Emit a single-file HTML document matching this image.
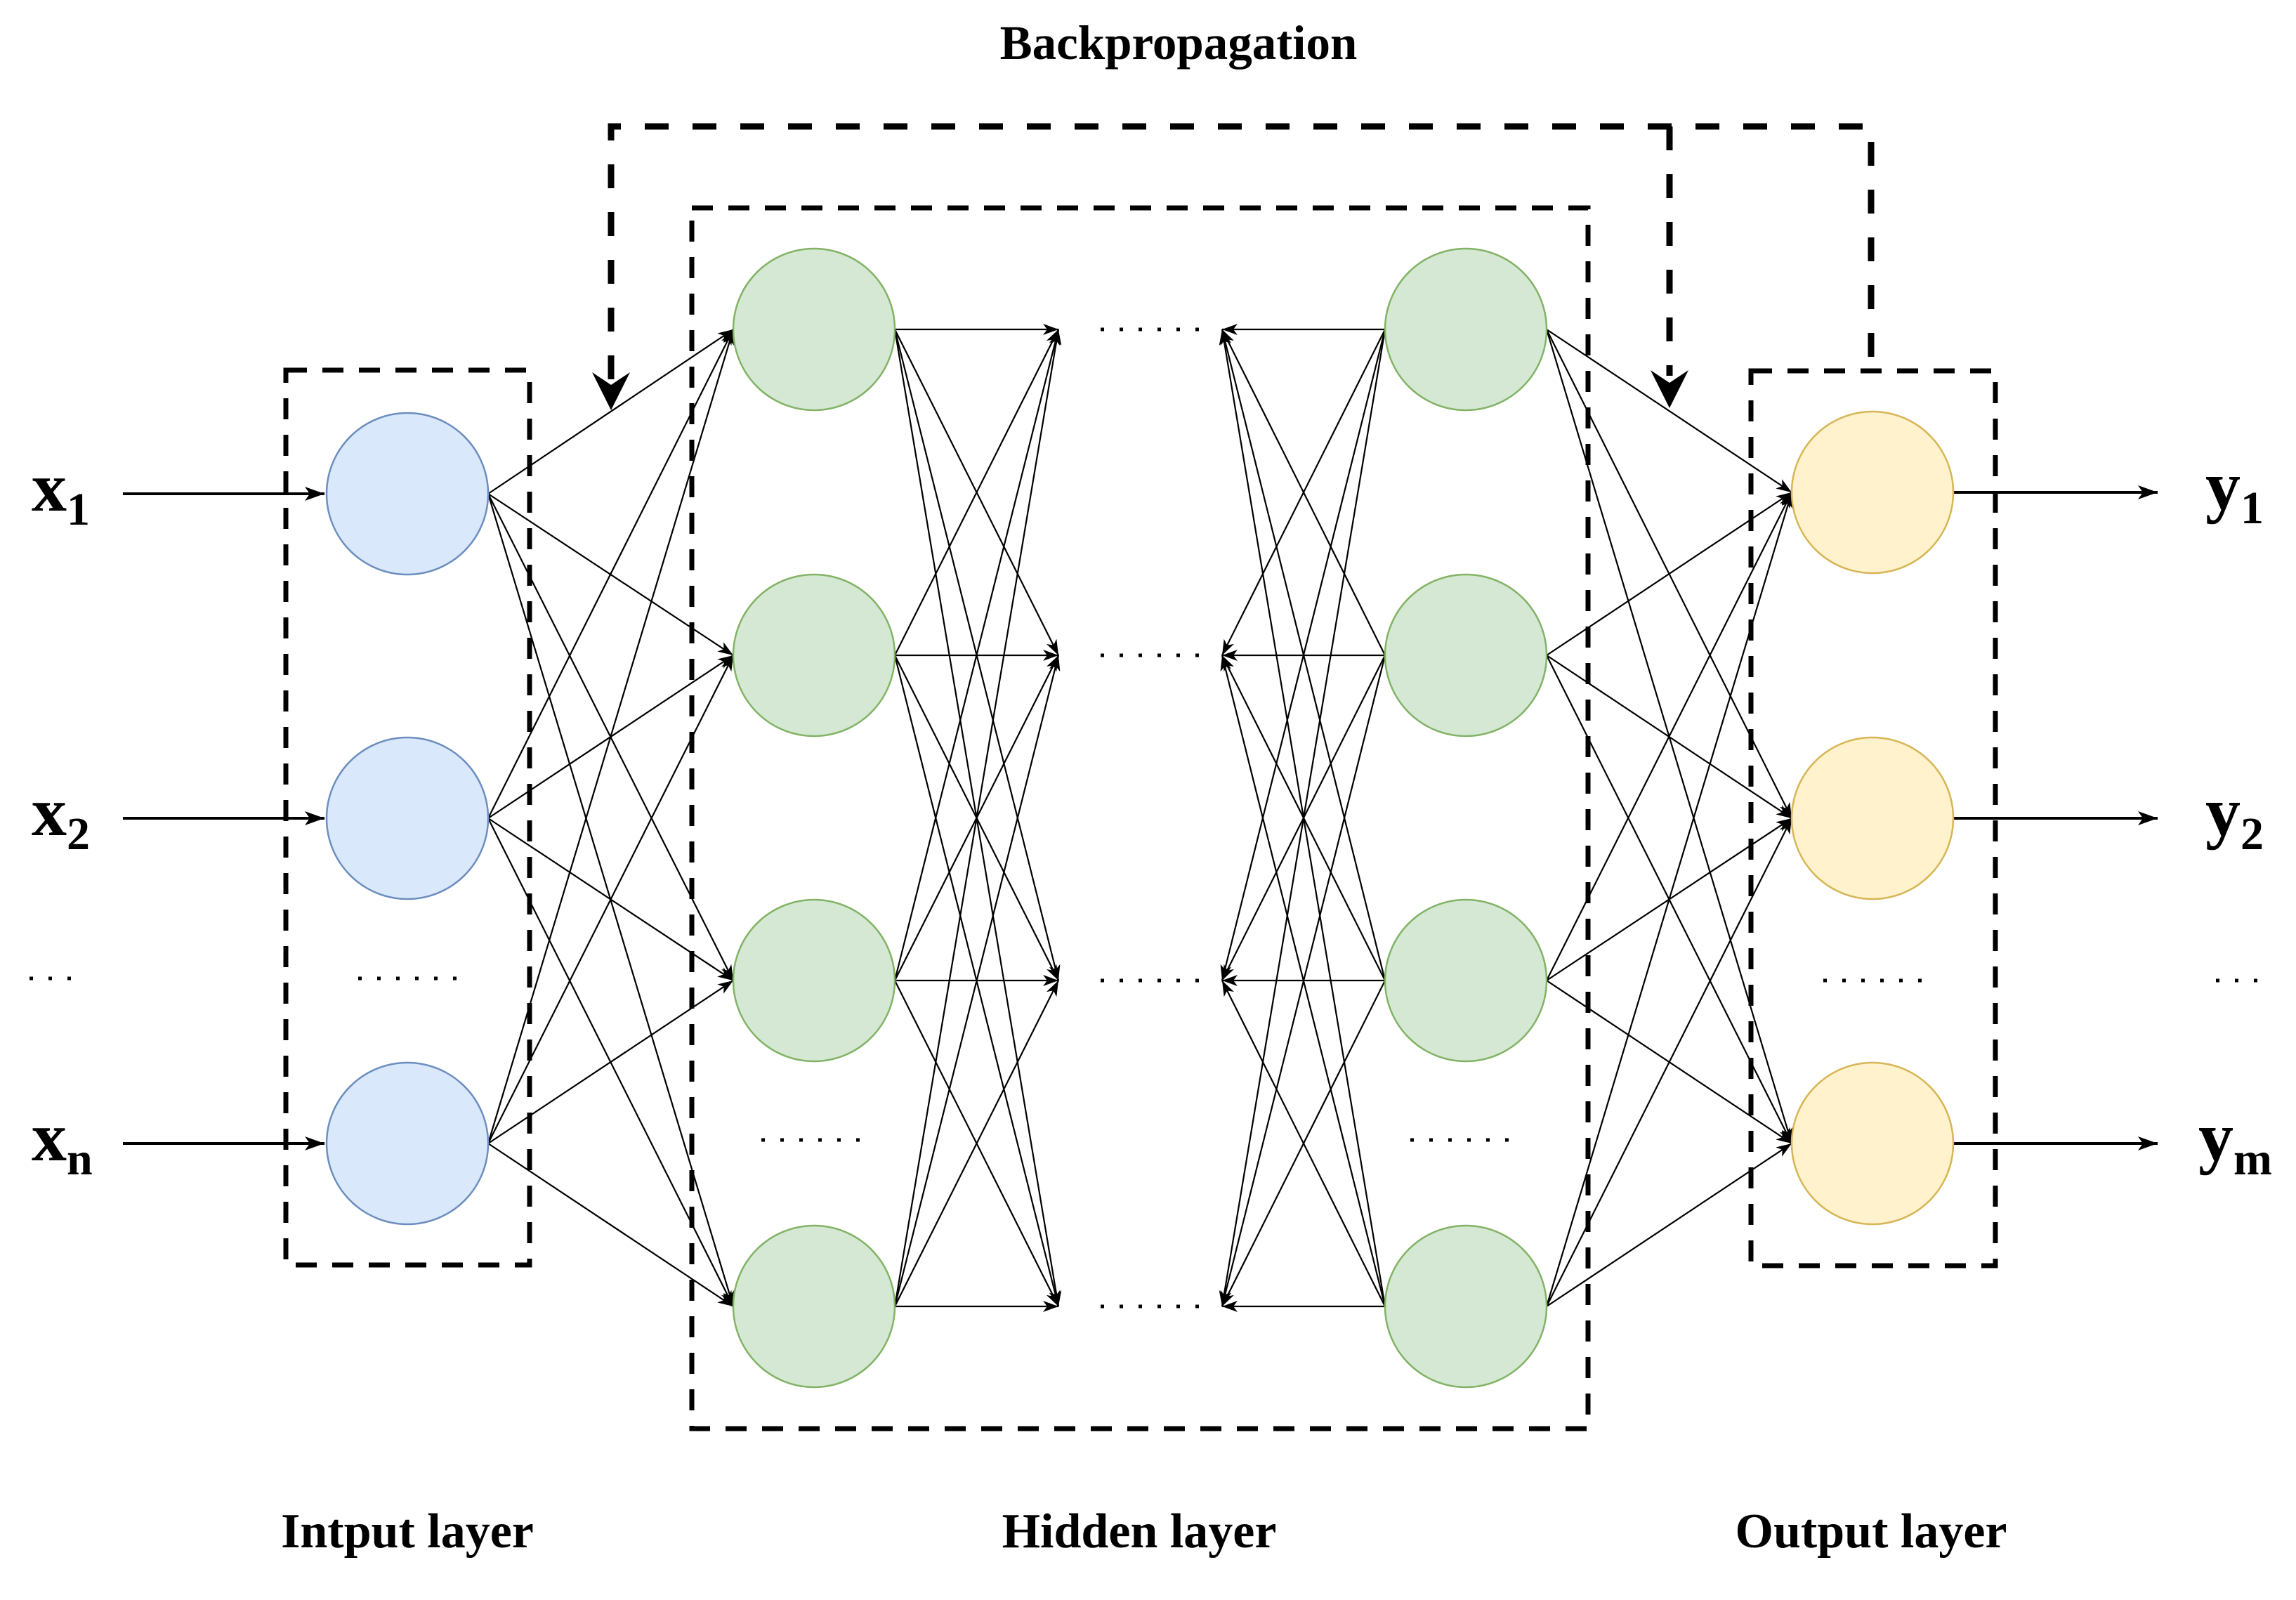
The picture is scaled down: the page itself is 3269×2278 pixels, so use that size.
<!DOCTYPE html>
<html><head><meta charset="utf-8"><style>
html,body{margin:0;padding:0;background:#fff;}
svg{display:block;}
text{font-family:"Liberation Serif",serif;font-weight:bold;fill:#000;}
</style></head><body>
<svg width="3269" height="2278" viewBox="0 0 3269 2278" xmlns="http://www.w3.org/2000/svg">
<defs>
<marker id="a" markerUnits="userSpaceOnUse" markerWidth="24" markerHeight="16" refX="22" refY="8" orient="auto">
<path d="M0,0 L22,8 L0,16 L6,8 z" fill="#000"/></marker>
<marker id="b" markerUnits="userSpaceOnUse" markerWidth="30" markerHeight="20" refX="28" refY="10" orient="auto">
<path d="M0,0 L28,10 L0,20 L7,10 z" fill="#000"/></marker>
</defs>

<text x="1678" y="84" font-size="69" text-anchor="middle">Backpropagation</text>

<g fill="none" stroke="#000" stroke-width="9" stroke-dasharray="34 34">
<path d="M870,540 L870,180 L2664,180 L2664,528"/>
<path d="M2377,180 L2377,535"/>
</g>
<path d="M843,530 L870,584 L897,530 L870,548 z" fill="#000"/>
<path d="M2350,527 L2377,581 L2404,527 L2377,545 z" fill="#000"/>

<g fill="none" stroke="#000" stroke-width="7" stroke-dasharray="30 22">
<rect x="407" y="527" width="347" height="1274"/>
<rect x="985" y="296" width="1276" height="1738"/>
<rect x="2493" y="528" width="348" height="1274"/>
</g>

<g stroke="#000" stroke-width="4" fill="none">
<line x1="175" y1="703" x2="462" y2="703" marker-end="url(#b)"/>
<line x1="175" y1="1165" x2="462" y2="1165" marker-end="url(#b)"/>
<line x1="175" y1="1628" x2="462" y2="1628" marker-end="url(#b)"/>
<line x1="2781" y1="701" x2="3072" y2="701" marker-end="url(#b)"/>
<line x1="2781" y1="1165" x2="3072" y2="1165" marker-end="url(#b)"/>
<line x1="2781" y1="1628" x2="3072" y2="1628" marker-end="url(#b)"/>
</g>

<g stroke="#000" stroke-width="2.2" fill="none" marker-end="url(#a)">
<line x1="695" y1="703" x2="1044" y2="469"/><line x1="695" y1="703" x2="1044" y2="933"/><line x1="695" y1="703" x2="1044" y2="1396"/><line x1="695" y1="703" x2="1044" y2="1860"/>
<line x1="695" y1="1165" x2="1044" y2="469"/><line x1="695" y1="1165" x2="1044" y2="933"/><line x1="695" y1="1165" x2="1044" y2="1396"/><line x1="695" y1="1165" x2="1044" y2="1860"/>
<line x1="695" y1="1628" x2="1044" y2="469"/><line x1="695" y1="1628" x2="1044" y2="933"/><line x1="695" y1="1628" x2="1044" y2="1396"/><line x1="695" y1="1628" x2="1044" y2="1860"/>
<line x1="1274" y1="469" x2="1507" y2="469"/><line x1="1274" y1="469" x2="1507" y2="933"/><line x1="1274" y1="469" x2="1507" y2="1396"/><line x1="1274" y1="469" x2="1507" y2="1860"/>
<line x1="1274" y1="933" x2="1507" y2="469"/><line x1="1274" y1="933" x2="1507" y2="933"/><line x1="1274" y1="933" x2="1507" y2="1396"/><line x1="1274" y1="933" x2="1507" y2="1860"/>
<line x1="1274" y1="1396" x2="1507" y2="469"/><line x1="1274" y1="1396" x2="1507" y2="933"/><line x1="1274" y1="1396" x2="1507" y2="1396"/><line x1="1274" y1="1396" x2="1507" y2="1860"/>
<line x1="1274" y1="1860" x2="1507" y2="469"/><line x1="1274" y1="1860" x2="1507" y2="933"/><line x1="1274" y1="1860" x2="1507" y2="1396"/><line x1="1274" y1="1860" x2="1507" y2="1860"/>
<line x1="1972" y1="469" x2="1740" y2="469"/><line x1="1972" y1="469" x2="1740" y2="933"/><line x1="1972" y1="469" x2="1740" y2="1396"/><line x1="1972" y1="469" x2="1740" y2="1860"/>
<line x1="1972" y1="933" x2="1740" y2="469"/><line x1="1972" y1="933" x2="1740" y2="933"/><line x1="1972" y1="933" x2="1740" y2="1396"/><line x1="1972" y1="933" x2="1740" y2="1860"/>
<line x1="1972" y1="1396" x2="1740" y2="469"/><line x1="1972" y1="1396" x2="1740" y2="933"/><line x1="1972" y1="1396" x2="1740" y2="1396"/><line x1="1972" y1="1396" x2="1740" y2="1860"/>
<line x1="1972" y1="1860" x2="1740" y2="469"/><line x1="1972" y1="1860" x2="1740" y2="933"/><line x1="1972" y1="1860" x2="1740" y2="1396"/><line x1="1972" y1="1860" x2="1740" y2="1860"/>
<line x1="2202" y1="469" x2="2551" y2="701"/><line x1="2202" y1="469" x2="2551" y2="1165"/><line x1="2202" y1="469" x2="2551" y2="1628"/>
<line x1="2202" y1="933" x2="2551" y2="701"/><line x1="2202" y1="933" x2="2551" y2="1165"/><line x1="2202" y1="933" x2="2551" y2="1628"/>
<line x1="2202" y1="1396" x2="2551" y2="701"/><line x1="2202" y1="1396" x2="2551" y2="1165"/><line x1="2202" y1="1396" x2="2551" y2="1628"/>
<line x1="2202" y1="1860" x2="2551" y2="701"/><line x1="2202" y1="1860" x2="2551" y2="1165"/><line x1="2202" y1="1860" x2="2551" y2="1628"/>
</g>

<g fill="#dae8fc" stroke="#6c8ebf" stroke-width="2.5">
<circle cx="580" cy="703" r="115"/><circle cx="580" cy="1165" r="115"/><circle cx="580" cy="1628" r="115"/>
</g>
<g fill="#d5e8d4" stroke="#82b366" stroke-width="2.5">
<circle cx="1159" cy="469" r="115"/><circle cx="1159" cy="933" r="115"/><circle cx="1159" cy="1396" r="115"/><circle cx="1159" cy="1860" r="115"/>
<circle cx="2087" cy="469" r="115"/><circle cx="2087" cy="933" r="115"/><circle cx="2087" cy="1396" r="115"/><circle cx="2087" cy="1860" r="115"/>
</g>
<g fill="#fff2cc" stroke="#d6b656" stroke-width="2.5">
<circle cx="2666" cy="701" r="115"/><circle cx="2666" cy="1165" r="115"/><circle cx="2666" cy="1628" r="115"/>
</g>

<g stroke="#000" stroke-width="5" stroke-dasharray="5 22" stroke-linecap="butt" fill="none">
<line x1="510" y1="1393" x2="660" y2="1393"/>
<line x1="1084" y1="1623" x2="1234" y2="1623"/>
<line x1="2008" y1="1623" x2="2158" y2="1623"/>
<line x1="2596" y1="1396" x2="2746" y2="1396"/>
<line x1="1567" y1="469" x2="1725" y2="469"/>
<line x1="1567" y1="933" x2="1725" y2="933"/>
<line x1="1567" y1="1396" x2="1725" y2="1396"/>
<line x1="1567" y1="1860" x2="1725" y2="1860"/>
<line x1="42" y1="1393" x2="120" y2="1393"/>
<line x1="3155" y1="1396" x2="3233" y2="1396"/>
</g>

<text x="45" y="727" font-size="100">x<tspan font-size="66" dy="20">1</tspan></text>
<text x="45" y="1189" font-size="100">x<tspan font-size="66" dy="20">2</tspan></text>
<text x="45" y="1652" font-size="100">x<tspan font-size="66" dy="20">n</tspan></text>
<text x="3140" y="725" font-size="100">y<tspan font-size="66" dy="20">1</tspan></text>
<text x="3140" y="1189" font-size="100">y<tspan font-size="66" dy="20">2</tspan></text>
<text x="3130" y="1652" font-size="100">y<tspan font-size="66" dy="20">m</tspan></text>

<text x="580" y="2203" font-size="70" text-anchor="middle">Intput layer</text>
<text x="1622" y="2203" font-size="70" text-anchor="middle">Hidden layer</text>
<text x="2664" y="2203" font-size="70" text-anchor="middle">Output layer</text>
</svg>
</body></html>
